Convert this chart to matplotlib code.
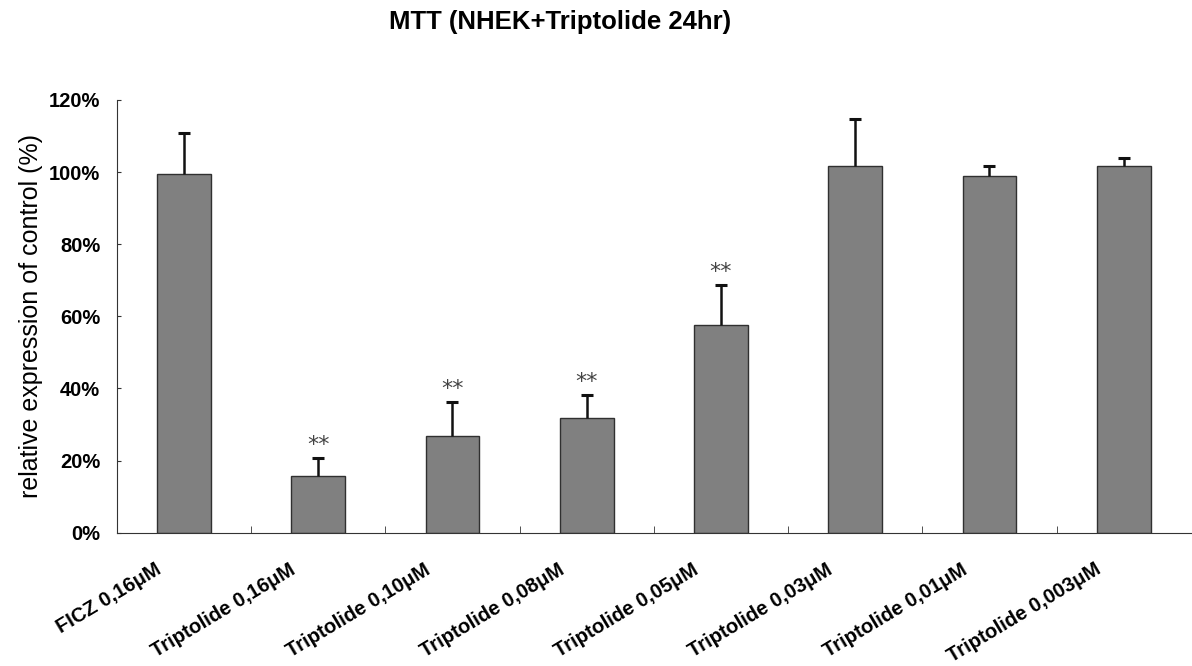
import numpy as np
import matplotlib
matplotlib.use("Agg")
import matplotlib.pyplot as plt
import matplotlib.transforms as mtransforms
from matplotlib.ticker import PercentFormatter

plt.rcParams['font.family'] = ['Liberation Sans', 'DejaVu Sans']

# data
labels = ["FICZ 0,16μM", "Triptolide 0,16μM", "Triptolide 0,10μM", "Triptolide 0,08μM",
          "Triptolide 0,05μM", "Triptolide 0,03μM", "Triptolide 0,01μM", "Triptolide 0,003μM"]
means = [99.4, 15.8, 26.9, 31.9, 57.6, 101.7, 99.0, 101.7]
errors = [11.5, 4.9, 9.3, 6.2, 11.0, 13.0, 2.7, 2.1]
stars = ["", "**", "**", "**", "**", "", "", ""]

fig = plt.figure(figsize=(11.92, 6.66), dpi=100)
ax = fig.add_axes([0.098, 0.2, 0.901, 0.65])

x = np.arange(len(labels))
ax.bar(x, means, width=0.4, color="#808080", edgecolor="#303030", linewidth=1.0, zorder=2)
_, caps, _ = ax.errorbar(x, means, yerr=[np.zeros(len(errors)), errors], fmt="none",
                         ecolor="#111111", elinewidth=1.8, capsize=4, capthick=2.2, zorder=3)
caps[0].set_visible(False)  # only the upper cap

for xi, m, e, s in zip(x, means, errors, stars):
    if s:
        ax.text(xi, m + e + 1.0, s, ha="center", va="bottom", fontsize=16,
                color="#444444", family="DejaVu Sans")

ax.set_xlim(-0.5, len(labels) - 0.5)
ax.set_ylim(0, 120)
ax.set_yticks(np.arange(0, 121, 20))
ax.yaxis.set_major_formatter(PercentFormatter(decimals=0))

# category labels, drawn as rotated text left of each bar centre
ax.set_xticks(x)
ax.set_xticklabels([])
ax.tick_params(axis="x", which="major", length=0)
shift = mtransforms.ScaledTranslation(-0.29, -0.27, fig.dpi_scale_trans)
for xi, lab in zip(x, labels):
    ax.text(xi, 0, lab, transform=ax.get_xaxis_transform() + shift,
            rotation=31, ha="right", va="top", rotation_mode="anchor",
            fontsize=14.5, fontweight="bold")

ax.set_xticks(np.arange(0.5, len(labels) - 0.5, 1), minor=True)
ax.tick_params(axis="x", which="minor", direction="in", length=5, color="#333333")
ax.tick_params(axis="y", direction="in", length=3, labelsize=14.5, color="#333333", pad=12)
for lab in ax.get_yticklabels():
    lab.set_fontweight("bold")

ax.spines["top"].set_visible(False)
ax.spines["right"].set_visible(False)
ax.spines["left"].set_color("#333333")
ax.spines["bottom"].set_color("#333333")

ax.set_ylabel("relative expression of control (%)", fontsize=18, labelpad=4)
fig.suptitle("MTT (NHEK+Triptolide 24hr)", x=0.47, fontsize=18.5, fontweight="bold", y=0.985)

fig.savefig("out.png", dpi=100)
